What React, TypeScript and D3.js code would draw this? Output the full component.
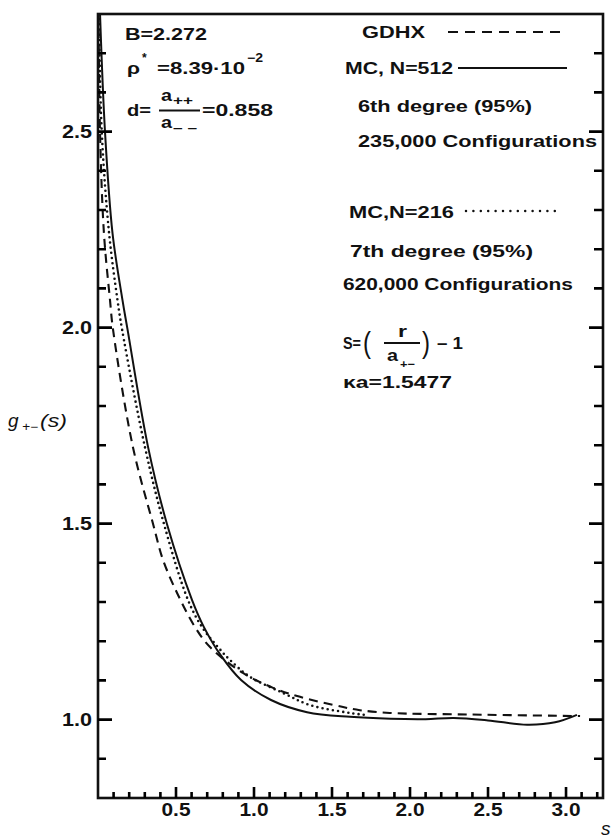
import React from "react";
import * as d3 from "d3";

// Pair distribution function g+-(s) for the 2:2 electrolyte
// GDHX theory curve
const gdhx: [number, number][] = [
  [0.003, 2.8], [0.013, 2.499], [0.038, 2.241], [0.077, 2.07], [0.096, 1.996],
  [0.224, 1.695], [0.353, 1.499], [0.417, 1.407], [0.513, 1.318], [0.622, 1.236],
  [0.718, 1.185], [0.929, 1.119], [1.122, 1.081], [1.295, 1.058], [1.571, 1.032],
  [1.679, 1.024], [1.87, 1.017], [2.38, 1.013], [3.09, 1.009],
];

// Monte Carlo, N = 512 (6th degree fit)
const mc512: [number, number][] = [
  [0.013, 2.8], [0.045, 2.499], [0.093, 2.241], [0.157, 2.07], [0.189, 1.996],
  [0.321, 1.695], [0.442, 1.499], [0.603, 1.305], [0.679, 1.236], [0.785, 1.165],
  [0.917, 1.101], [1.109, 1.05], [1.34, 1.019], [1.615, 1.007], [1.875, 1.002],
  [2.1, 1.001], [2.28, 1.004], [2.5, 0.998], [2.75, 0.987], [2.93, 0.993], [3.07, 1.012],
];

// Monte Carlo, N = 216 (7th degree fit)
const mc216: [number, number][] = [
  [0.006, 2.8], [0.024, 2.499], [0.071, 2.241], [0.125, 2.07], [0.154, 1.996],
  [0.301, 1.695], [0.423, 1.499], [0.577, 1.305], [0.667, 1.236], [0.769, 1.185],
  [0.846, 1.152], [0.974, 1.109], [1.186, 1.068], [1.359, 1.037], [1.615, 1.017], [1.712, 1.012],
];

const yMinorTicks = [0.9, 1.1, 1.2, 1.3, 1.4, 1.6, 1.7, 1.8, 1.9, 2.1, 2.2, 2.3, 2.4, 2.6, 2.7];
const yMajorTicks = [1.0, 1.5, 2.0, 2.5];
const xMinorTicks = [
  0.1, 0.2, 0.3, 0.4, 0.6, 0.7, 0.8, 0.9, 1.1, 1.2, 1.3, 1.4, 1.6, 1.7, 1.8, 1.9,
  2.1, 2.2, 2.3, 2.4, 2.6, 2.7, 2.8, 2.9, 3.1, 3.2,
];
const xMajorTicks = [0.5, 1.0, 1.5, 2.0, 2.5, 3.0];
const yTickLabels = ["1.0", "1.5", "2.0", "2.5"];
const xTickLabels = ["0.5", "1.0", "1.5", "2.0", "2.5", "3.0"];

const FONT = "'Liberation Sans', Arial, Helvetica, sans-serif";
const INK = "#111";

type TProps = {
  x: number;
  y: number;
  w?: number;
  size?: number;
  italic?: boolean;
  weight?: number;
  anchor?: string;
  children: React.ReactNode;
};

function T({ x, y, w, size = 16, italic, weight = 700, anchor = "start", children }: TProps) {
  return (
    <text
      x={x}
      y={y}
      fontSize={size}
      fontFamily={FONT}
      fontWeight={weight}
      fontStyle={italic ? "italic" : "normal"}
      textAnchor={anchor}
      fill={INK}
      textLength={w}
      lengthAdjust={w ? "spacingAndGlyphs" : undefined}
    >
      {children}
    </text>
  );
}

const x = d3.scaleLinear().domain([0, 3.237]).range([98, 603]);
const y = d3.scaleLinear().domain([0.8, 2.8]).range([798, 14]);

export default function App() {
  const line = d3
    .line<[number, number]>()
    .x((d) => x(d[0]))
    .y((d) => y(d[1]))
    .curve(d3.curveCatmullRom.alpha(0.5));

  const left = x(0);
  const right = x(3.237);
  const bottom = y(0.8);
  const top = y(2.8);

  // one path holding every inward tick
  const tickPath = [
    ...yMinorTicks.map((v) => `M${left},${y(v)}h8`),
    ...yMajorTicks.map((v) => `M${left},${y(v)}h14`),
    ...yMinorTicks.map((v) => `M${right},${y(v)}h-9`),
    ...yMajorTicks.map((v) => `M${right},${y(v)}h-14`),
    ...xMinorTicks.map((v) => `M${x(v)},${bottom}v-6`),
    ...xMajorTicks.map((v) => `M${x(v)},${bottom}v-11`),
  ].join("");

  return (
    <svg
      width={613}
      height={838}
      style={{ position: "absolute", left: 0, top: 0, background: "#fff" }}
    >
      <rect x={0} y={0} width={613} height={838} fill="#fff" />
      <defs>
        <clipPath id="plot">
          <rect x={left} y={top} width={right - left} height={bottom - top} />
        </clipPath>
      </defs>

      {/* curves */}
      <g clipPath="url(#plot)" fill="none" stroke={INK}>
        <path d={line(gdhx) || ""} strokeWidth={2.1} strokeDasharray="9,6" />
        <path d={line(mc512) || ""} strokeWidth={2} />
        <path d={line(mc216) || ""} strokeWidth={2.6} strokeDasharray="0,5.2" strokeLinecap="round" />
      </g>

      {/* frame */}
      <rect x={left} y={top} width={right - left} height={bottom - top} fill="none" stroke={INK} strokeWidth={2.6} />

      {/* inward ticks */}
      <path d={tickPath} fill="none" stroke="#000" strokeWidth={2.6} />

      {/* tick labels */}
      {yTickLabels.map((t) => (
        <T key={t} x={92} y={y(+t) + 6.5} w={30} size={18} anchor="end">
          {t}
        </T>
      ))}
      {xTickLabels.map((t) => (
        <T key={t} x={x(+t) - 14.5} y={816} w={29} size={18}>
          {t}
        </T>
      ))}

      {/* axis titles */}
      <T x={601} y={835} size={19} italic weight={400}>s</T>
      <T x={8} y={427} size={19} italic weight={400}>g</T>
      <T x={22} y={431} w={16} size={12} italic weight={400}>+−</T>
      <T x={40} y={427} w={27} size={19} italic weight={400}>(s)</T>

      {/* parameters */}
      <T x={125} y={40} w={82} size={17}>B=2.272</T>
      <T x={127} y={74} w={13} size={17}>ρ</T>
      <T x={142} y={62} size={12}>*</T>
      <T x={157} y={74} w={88} size={17}>=8.39·10</T>
      <T x={247} y={62} w={16} size={12}>−2</T>

      <T x={127} y={116} w={24} size={17}>d=</T>
      <T x={161} y={101} w={11} size={17}>a</T>
      <T x={173} y={105} w={20} size={12}>++</T>
      <line x1={159} x2={200} y1={110.5} y2={110.5} stroke={INK} strokeWidth={2} />
      <T x={161} y={128} w={11} size={17}>a</T>
      <T x={173} y={132} w={24} size={12}>– –</T>
      <T x={202} y={116} w={71} size={17}>=0.858</T>

      {/* legend */}
      <T x={362} y={38} w={63} size={17}>GDHX</T>
      <line x1={448} x2={567} y1={32} y2={32} stroke={INK} strokeWidth={2} strokeDasharray="10,7" />
      <T x={345} y={74} w={108} size={17}>MC, N=512</T>
      <line x1={458} x2={567} y1={68} y2={68} stroke={INK} strokeWidth={1.8} />
      <T x={358} y={112} w={174} size={17}>6th degree (95%)</T>
      <T x={358} y={147} w={239} size={17}>235,000 Configurations</T>

      <T x={349} y={218} w={105} size={17}>MC,N=216</T>
      <line x1={466} x2={556} y1={211} y2={211} stroke={INK} strokeWidth={2.5} strokeDasharray="0,7.4" strokeLinecap="round" />
      <T x={350} y={257} w={183} size={17}>7th degree (95%)</T>
      <T x={343} y={290} w={230} size={17}>620,000 Configurations</T>

      {/* reduced distance definition */}
      <T x={343} y={349} w={18} size={17}>S=</T>
      <T x={363} y={353} w={8} size={30} weight={400}>(</T>
      <T x={398} y={337} w={9} size={17}>r</T>
      <line x1={384} x2={420} y1={343} y2={343} stroke={INK} strokeWidth={2} />
      <T x={387} y={361} w={11} size={17}>a</T>
      <T x={400} y={368} w={15} size={11}>+−</T>
      <T x={422} y={353} w={8} size={30} weight={400}>)</T>
      <T x={437} y={349} w={26} size={17}>– 1</T>
      <T x={343} y={388} w={109} size={17}>κa=1.5477</T>
    </svg>
  );
}
